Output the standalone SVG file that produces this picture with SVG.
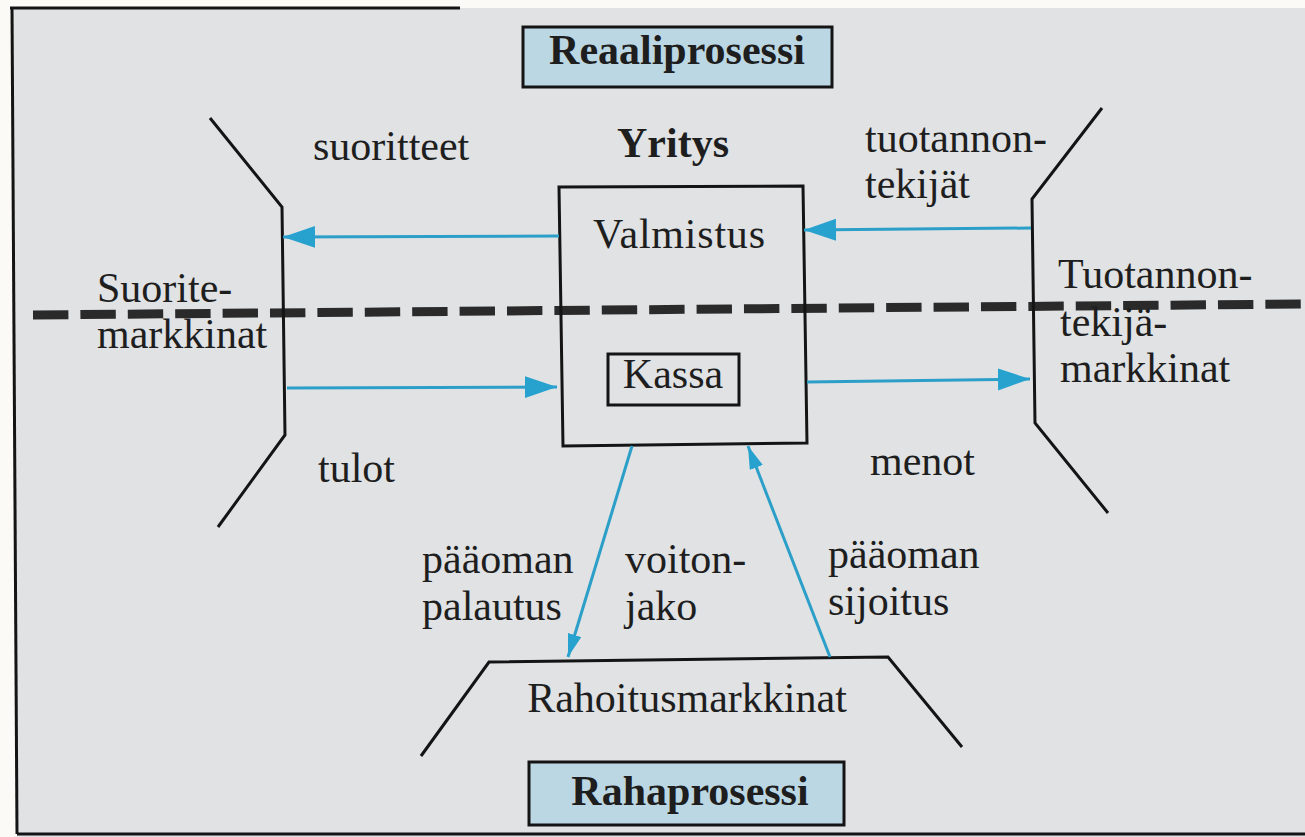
<svg xmlns="http://www.w3.org/2000/svg" width="1305" height="837" viewBox="0 0 1305 837">
<style>
.t{font-family:"Liberation Serif","Times New Roman",serif;font-size:42px;fill:#1e1e1e}
.b{font-weight:bold}
.ln{fill:none;stroke:#141414;stroke-width:3;stroke-linejoin:miter}
.ar{fill:none;stroke:#2c9fc9;stroke-width:3}
.lbl{fill:#bcd7e4;stroke:#141414;stroke-width:3}
</style>
<defs>
<marker id="big" markerUnits="userSpaceOnUse" markerWidth="34" markerHeight="24" refX="32" refY="11" orient="auto">
<path d="M0,0 L32,11 L0,22 z" fill="#27a2cf"/>
</marker>
<marker id="small" markerUnits="userSpaceOnUse" markerWidth="24" markerHeight="16" refX="23" refY="7" orient="auto">
<path d="M0,0 L23,7 L0,14 z" fill="#27a2cf"/>
</marker>
</defs>
<rect x="0" y="0" width="1305" height="837" fill="#fbfaf6"/>
<polygon points="12,8 1305,8 1305,837 17,837" fill="#e0e2e4"/>
<g id="frame">
<line x1="12" y1="8" x2="17" y2="834" class="ln"/>
<line x1="10" y1="8" x2="460" y2="8" class="ln"/>
<line x1="17" y1="834" x2="1305" y2="834" class="ln"/>
</g>
<g id="divider">
<line x1="33" y1="315" x2="1305" y2="304" stroke="#2a2a2a" stroke-width="9" stroke-dasharray="35.4 12"/>
</g>
<g id="reaaliprosessi">
<rect x="523" y="27" width="309" height="60" class="lbl"/>
<text x="677" y="64" text-anchor="middle" class="t b">Reaaliprosessi</text>
</g>
<g id="rahaprosessi">
<rect x="529" y="762" width="315" height="63" class="lbl"/>
<text x="690" y="805" text-anchor="middle" class="t b">Rahaprosessi</text>
</g>
<g id="yritys">
<text x="673" y="157" text-anchor="middle" class="t b">Yritys</text>
<polygon points="559,187 803,186 807,443 563,446" class="ln"/>
<text x="679" y="248" text-anchor="middle" class="t" textLength="172" lengthAdjust="spacing">Valmistus</text>
</g>
<g id="kassa">
<rect x="608" y="354" width="131" height="51" class="ln"/>
<text x="673" y="388" text-anchor="middle" class="t">Kassa</text>
</g>
<g id="suoritemarkkinat">
<polyline points="210,118 282,207 285,435 218,527" class="ln"/>
<text x="97" y="302" class="t">Suorite-</text>
<text x="97" y="348" class="t">markkinat</text>
</g>
<g id="tuotannontekijamarkkinat">
<polyline points="1102,108 1032,199 1035,423 1108,513" class="ln"/>
<text x="1058" y="288" class="t">Tuotannon-</text>
<text x="1060" y="336" class="t">tekijä-</text>
<text x="1060" y="382" class="t">markkinat</text>
</g>
<g id="rahoitusmarkkinat">
<polyline points="421,756 489,662 888,657 962,747" class="ln"/>
<text x="687" y="712" text-anchor="middle" class="t">Rahoitusmarkkinat</text>
</g>
<g id="connectors">
<line x1="559" y1="236" x2="283" y2="237" class="ar" marker-end="url(#big)"/>
<line x1="1031" y1="228" x2="804" y2="230" class="ar" marker-end="url(#big)"/>
<line x1="287" y1="388" x2="557" y2="387" class="ar" marker-end="url(#big)"/>
<line x1="807" y1="382" x2="1030" y2="379" class="ar" marker-end="url(#big)"/>
<line x1="632" y1="446" x2="568" y2="657" class="ar" marker-end="url(#small)"/>
<line x1="830" y1="657" x2="748" y2="446" class="ar" marker-end="url(#small)"/>
</g>
<g id="labels">
<text x="313" y="160" class="t">suoritteet</text>
<text x="865" y="152" class="t">tuotannon-</text>
<text x="865" y="198" class="t">tekijät</text>
<text x="318" y="482" class="t">tulot</text>
<text x="870" y="475" class="t">menot</text>
<text x="422" y="573" class="t">pääoman</text>
<text x="422" y="620" class="t">palautus</text>
<text x="625" y="573" class="t">voiton-</text>
<text x="625" y="620" class="t">jako</text>
<text x="828" y="568" class="t">pääoman</text>
<text x="828" y="615" class="t">sijoitus</text>
</g>
</svg>
